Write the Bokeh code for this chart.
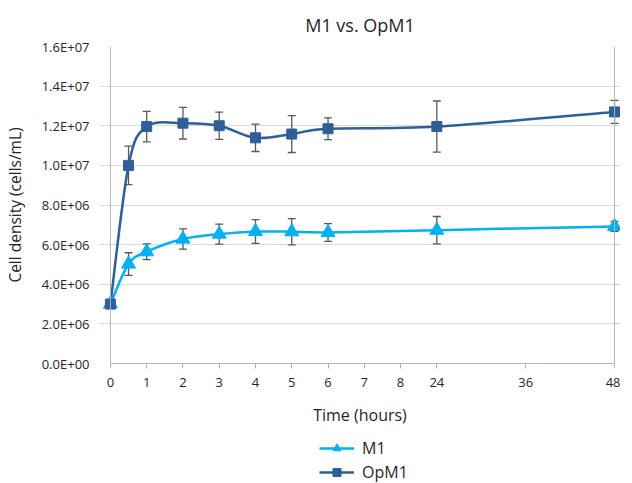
import numpy as np
from bokeh.plotting import figure
from bokeh.layouts import column
from bokeh.models import (ColumnDataSource, Range1d, FixedTicker, Whisker, TeeHead,
                          Span, Legend, LegendItem)
from bokeh.embed import file_html
from bokeh.resources import INLINE

# ---------------- data ----------------
time_h = [0, 0.5, 1, 2, 3, 4, 5, 6, 24, 48]
m1 = [3.0e6, 5.02e6, 5.64e6, 6.28e6, 6.53e6, 6.66e6, 6.65e6, 6.61e6, 6.73e6, 6.92e6]
m1_err = [0.0, 0.57e6, 0.40e6, 0.51e6, 0.50e6, 0.60e6, 0.66e6, 0.45e6, 0.69e6, 0.25e6]
opm1 = [3.0e6, 1.00e7, 1.196e7, 1.213e7, 1.200e7, 1.139e7, 1.158e7, 1.185e7, 1.196e7, 1.270e7]
opm1_err = [0.0, 0.97e6, 0.77e6, 0.80e6, 0.69e6, 0.69e6, 0.93e6, 0.55e6, 1.29e6, 0.58e6]

series_names = ["M1", "OpM1"]
x_tick_hours = [0, 1, 2, 3, 4, 5, 6, 7, 8, 24, 36, 48]
x_tick_labels = ["0", "1", "2", "3", "4", "5", "6", "7", "8", "24", "36", "48"]
y_ticks = [0, 2e6, 4e6, 6e6, 8e6, 1e7, 1.2e7, 1.4e7, 1.6e7]
y_tick_labels = ["0.0E+00", "2.0E+06", "4.0E+06", "6.0E+06", "8.0E+06",
                 "1.0E+07", "1.2E+07", "1.4E+07", "1.6E+07"]

FONT = "Open Sans"
TEXT = "#262626"
AXIS = "#b3b3b3"
GRID = "#d9d9d9"
C_M1 = "#00B0F0"
C_OP = "#2E5F98"
ERR = "#595959"


def axis_pos(t):
    # broken time axis: hours 0..8 evenly, then 24, 36, 48 compressed
    return t if t <= 8 else 9 + (t - 24) * 4.9 / 24


x_end = axis_pos(48)
px_unit = 36.55

p = figure(width=620, height=436, output_backend="svg", toolbar_location=None,
           x_range=Range1d(-11 / px_unit, x_end + 6 / px_unit),
           y_range=Range1d(0, 1.6e7),
           min_border_left=95, min_border_right=0, min_border_top=46,
           min_border_bottom=73, title="M1 vs. OpM1")
p.outline_line_color = None
p.background_fill_color = "white"
p.border_fill_color = "white"

p.title.align = "center"
p.title.text_font = FONT
p.title.text_font_size = "18px"
p.title.text_font_style = "normal"
p.title.text_color = TEXT
p.title.standoff = 19

# grid
p.xgrid.grid_line_color = None
p.ygrid.grid_line_color = GRID
p.ygrid.grid_line_width = 1
p.ygrid.bounds = (0, x_end)

# x axis
p.xaxis.ticker = FixedTicker(ticks=[axis_pos(t) for t in x_tick_hours])
p.xaxis.major_label_overrides = {axis_pos(t): lab for t, lab in zip(x_tick_hours, x_tick_labels)}
p.xaxis.bounds = (0, x_end)
p.xaxis.axis_line_color = AXIS
p.xaxis.major_tick_line_color = AXIS
p.xaxis.major_tick_out = 5
p.xaxis.major_tick_in = 0
p.xaxis.minor_tick_line_color = None
p.xaxis.major_label_standoff = 9
p.xaxis.major_label_text_font = FONT
p.xaxis.major_label_text_font_size = "13px"
p.xaxis.major_label_text_color = TEXT
p.xaxis.axis_label = "Time (hours)"
p.xaxis.axis_label_text_font = FONT
p.xaxis.axis_label_text_font_size = "16px"
p.xaxis.axis_label_text_font_style = "normal"
p.xaxis.axis_label_text_color = TEXT
p.xaxis.axis_label_standoff = 14

# y axis
p.yaxis.ticker = FixedTicker(ticks=y_ticks)
p.yaxis.major_label_overrides = {v: lab for v, lab in zip(y_ticks, y_tick_labels)}
p.yaxis.axis_line_color = None
p.yaxis.major_tick_line_color = None
p.yaxis.minor_tick_line_color = None
p.yaxis.major_label_standoff = 4
p.yaxis.major_label_text_font = FONT
p.yaxis.major_label_text_font_size = "13px"
p.yaxis.major_label_text_color = TEXT
p.yaxis.axis_label = "Cell density (cells/mL)"
p.yaxis.axis_label_text_font = FONT
p.yaxis.axis_label_text_font_size = "15.5px"
p.yaxis.axis_label_text_font_style = "normal"
p.yaxis.axis_label_text_color = TEXT
p.yaxis.axis_label_standoff = 13

# axis line at x = 0 and plot-area right border
p.add_layout(Span(location=axis_pos(0), dimension="height", line_color=AXIS, line_width=1))
p.add_layout(Span(location=x_end, dimension="height", line_color=AXIS, line_width=1))


def smooth_source(xs, ys):
    n = len(xs)
    d = dict(x0=[], y0=[], x1=[], y1=[], cx0=[], cy0=[], cx1=[], cy1=[])
    for i in range(n - 1):
        a = i - 1 if i > 0 else i
        b = i + 2 if i + 2 < n else i + 1
        d["x0"].append(xs[i]); d["y0"].append(ys[i])
        d["x1"].append(xs[i + 1]); d["y1"].append(ys[i + 1])
        d["cx0"].append(xs[i] + (xs[i + 1] - xs[a]) / 6)
        d["cy0"].append(ys[i] + (ys[i + 1] - ys[a]) / 6)
        d["cx1"].append(xs[i + 1] - (xs[b] - xs[i]) / 6)
        d["cy1"].append(ys[i + 1] - (ys[b] - ys[i]) / 6)
    return ColumnDataSource(d)


xpos = [axis_pos(t) for t in time_h]
styles = [(C_M1, "triangle", 14), (C_OP, "square", 10)]
sources = []
for vals, errs in [(m1, m1_err), (opm1, opm1_err)]:
    src = ColumnDataSource(dict(x=xpos, y=vals,
                                upper=[v + e for v, e in zip(vals, errs)],
                                lower=[v - e for v, e in zip(vals, errs)]))
    w = Whisker(source=src, base="x", upper="upper", lower="lower",
                line_color=ERR, line_width=1.3,
                upper_head=TeeHead(size=8, line_color=ERR, line_width=1.3),
                lower_head=TeeHead(size=8, line_color=ERR, line_width=1.3))
    w.level = "underlay"
    p.add_layout(w)
    sources.append(src)

for src, (color, marker, size) in zip(sources, styles):
    bsrc = smooth_source(src.data["x"], src.data["y"])
    p.bezier(x0="x0", y0="y0", x1="x1", y1="y1", cx0="cx0", cy0="cy0",
             cx1="cx1", cy1="cy1", source=bsrc, line_color=color, line_width=2.5)
for src, (color, marker, size) in zip(sources, styles):
    p.scatter("x", "y", source=src, marker=marker, size=size,
              fill_color=color, line_color=color)

# ---------------- legend strip below the chart ----------------
p2 = figure(width=620, height=47, output_backend="svg", toolbar_location=None,
            x_axis_type=None, y_axis_type=None,
            x_range=Range1d(0, 1), y_range=Range1d(0, 1),
            min_border_left=95, min_border_right=0,
            min_border_top=0, min_border_bottom=0)
p2.outline_line_color = None
p2.grid.grid_line_color = None
legend_items = []
for name, (color, marker, size) in zip(series_names, styles):
    # legend-only renderers, their single point lies outside the visible range
    lr = p2.line(x=[-5, -4], y=[-5, -4], line_color=color, line_width=2.5)
    sr = p2.scatter(x=[-5], y=[-5], marker=marker, size=size * 0.85,
                    fill_color=color, line_color=color)
    legend_items.append(LegendItem(label=name, renderers=[lr, sr]))

legend = Legend(items=legend_items, location=(220, 0), orientation="vertical",
                label_text_font=FONT, label_text_font_size="16px", label_text_color=TEXT,
                glyph_width=35, glyph_height=20, label_height=20, label_standoff=8,
                spacing=2, padding=0, margin=0, border_line_color=None,
                background_fill_alpha=0)
p2.add_layout(legend, "center")

layout = column(p, p2, spacing=0)
open("out.html", "w").write(file_html(layout, INLINE))
